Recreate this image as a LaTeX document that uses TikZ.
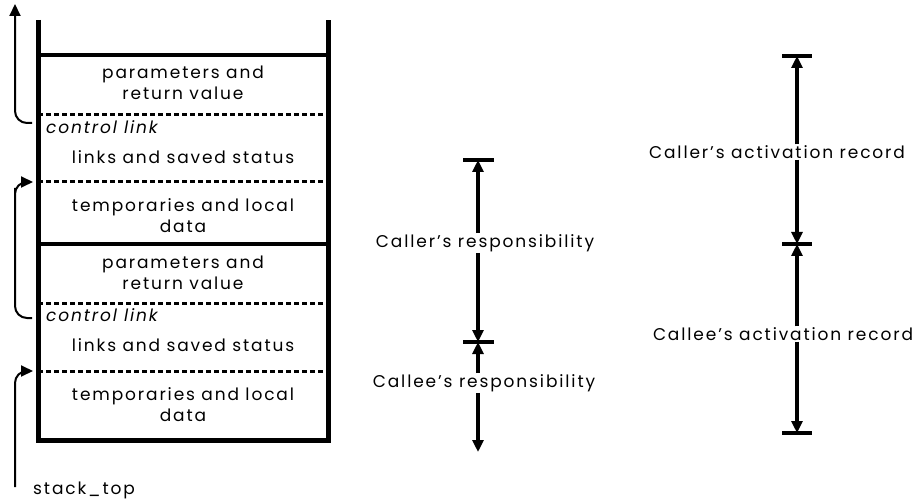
\documentclass[tikz,border=0pt]{standalone}
\usepackage{fontspec}
\setmainfont{Poppins}[LetterSpace=11]
\usetikzlibrary{arrows.meta}
\begin{document}
\begin{tikzpicture}[x=1pt,y=-1pt,
  lbl/.style={font=\fontsize{17}{21}\selectfont, align=center, inner sep=1pt},
  cl/.style={anchor=west, inner sep=1pt, font=\fontsize{17}{19}\selectfont\itshape},
  wall/.style={line width=5pt, line join=miter},
  solidsep/.style={line width=4pt},
  dashsep/.style={line width=3pt, dash pattern=on 5pt off 3pt},
  dim/.style={line width=3.5pt, -{Triangle[length=12pt,width=11pt]}},
  bar/.style={line width=4pt},
  link/.style={line width=2pt, rounded corners=12pt, -{Triangle[length=12pt,width=11pt]}}]
\useasboundingbox (0,0) rectangle (917,502);

% ---- stack frame ----
\draw[wall] (38,20) -- (38,440) -- (328,440) -- (328,20);
\draw[solidsep] (38,55) -- (328,55);
\draw[dashsep] (38,115) -- (328,115);
\draw[dashsep] (38,182) -- (328,182);
\draw[solidsep] (38,244) -- (328,244);
\draw[dashsep] (38,303) -- (328,303);
\draw[dashsep] (38,371) -- (328,371);

\node[lbl] (par1) at (183,83) {parameters and\\return value};
\node[cl] (cl1) at (45,127) {control link};
\node[lbl] (lnk1) at (183,157) {links and saved status};
\node[lbl] (tmp1) at (183,216) {temporaries and local\\data};
\node[lbl] (par2) at (183,273) {parameters and\\return value};
\node[cl] (cl2) at (45,315) {control link};
\node[lbl] (lnk2) at (183,345) {links and saved status};
\node[lbl] (tmp2) at (183,405) {temporaries and local\\data};
\node[anchor=west, inner sep=1pt, font=\fontsize{17}{19}\selectfont] (st) at (32,490) {stack\_top};

% ---- link arrows ----
\coordinate (cla) at (32,123);
\coordinate (up) at (15,4);
\coordinate (clb) at (32,318);
\coordinate (fp) at (33,182);
\coordinate (stb) at (15,487);
\coordinate (stt) at (33,371);
\draw[link] (cla) -| (up);
\draw[link] (clb) -| (15,200) |- (fp);
\draw[link] (stb) |- (stt);

% ---- responsibilities ----
\coordinate (r1) at (478,160);
\coordinate (r2) at (478,342);
\coordinate (r3) at (478,452);
\draw[bar] (463,160) -- (494,160);
\draw[bar] (463,342) -- (494,342);
\node[lbl] (crr) at (485,243) {Caller’s responsibility};
\node[lbl] (cer) at (484,383) {Callee’s responsibility};
\draw[dim] (crr.north -| r1) -- (r1);
\draw[dim] (crr.south -| r1) -- (r2);
\draw[dim] (cer.north -| r2) -- (r2);
\draw[dim] (cer.south -| r3) -- (r3);

% ---- activation records ----
\coordinate (a1) at (797,56);
\coordinate (a2) at (797,244);
\coordinate (a3) at (797,433);
\draw[bar] (782,56) -- (812,56);
\draw[bar] (782,244) -- (812,244);
\draw[bar] (782,433) -- (812,433);
\node[lbl] (car) at (777,152) {Caller’s activation record};
\node[lbl] (ear) at (783,334) {Callee’s activation record};
\draw[dim] (car.north -| a1) -- (a1);
\draw[dim] (car.south -| a1) -- (a2);
\draw[dim] (ear.north -| a2) -- (a2);
\draw[dim] (ear.south -| a3) -- (a3);
\end{tikzpicture}
\end{document}
